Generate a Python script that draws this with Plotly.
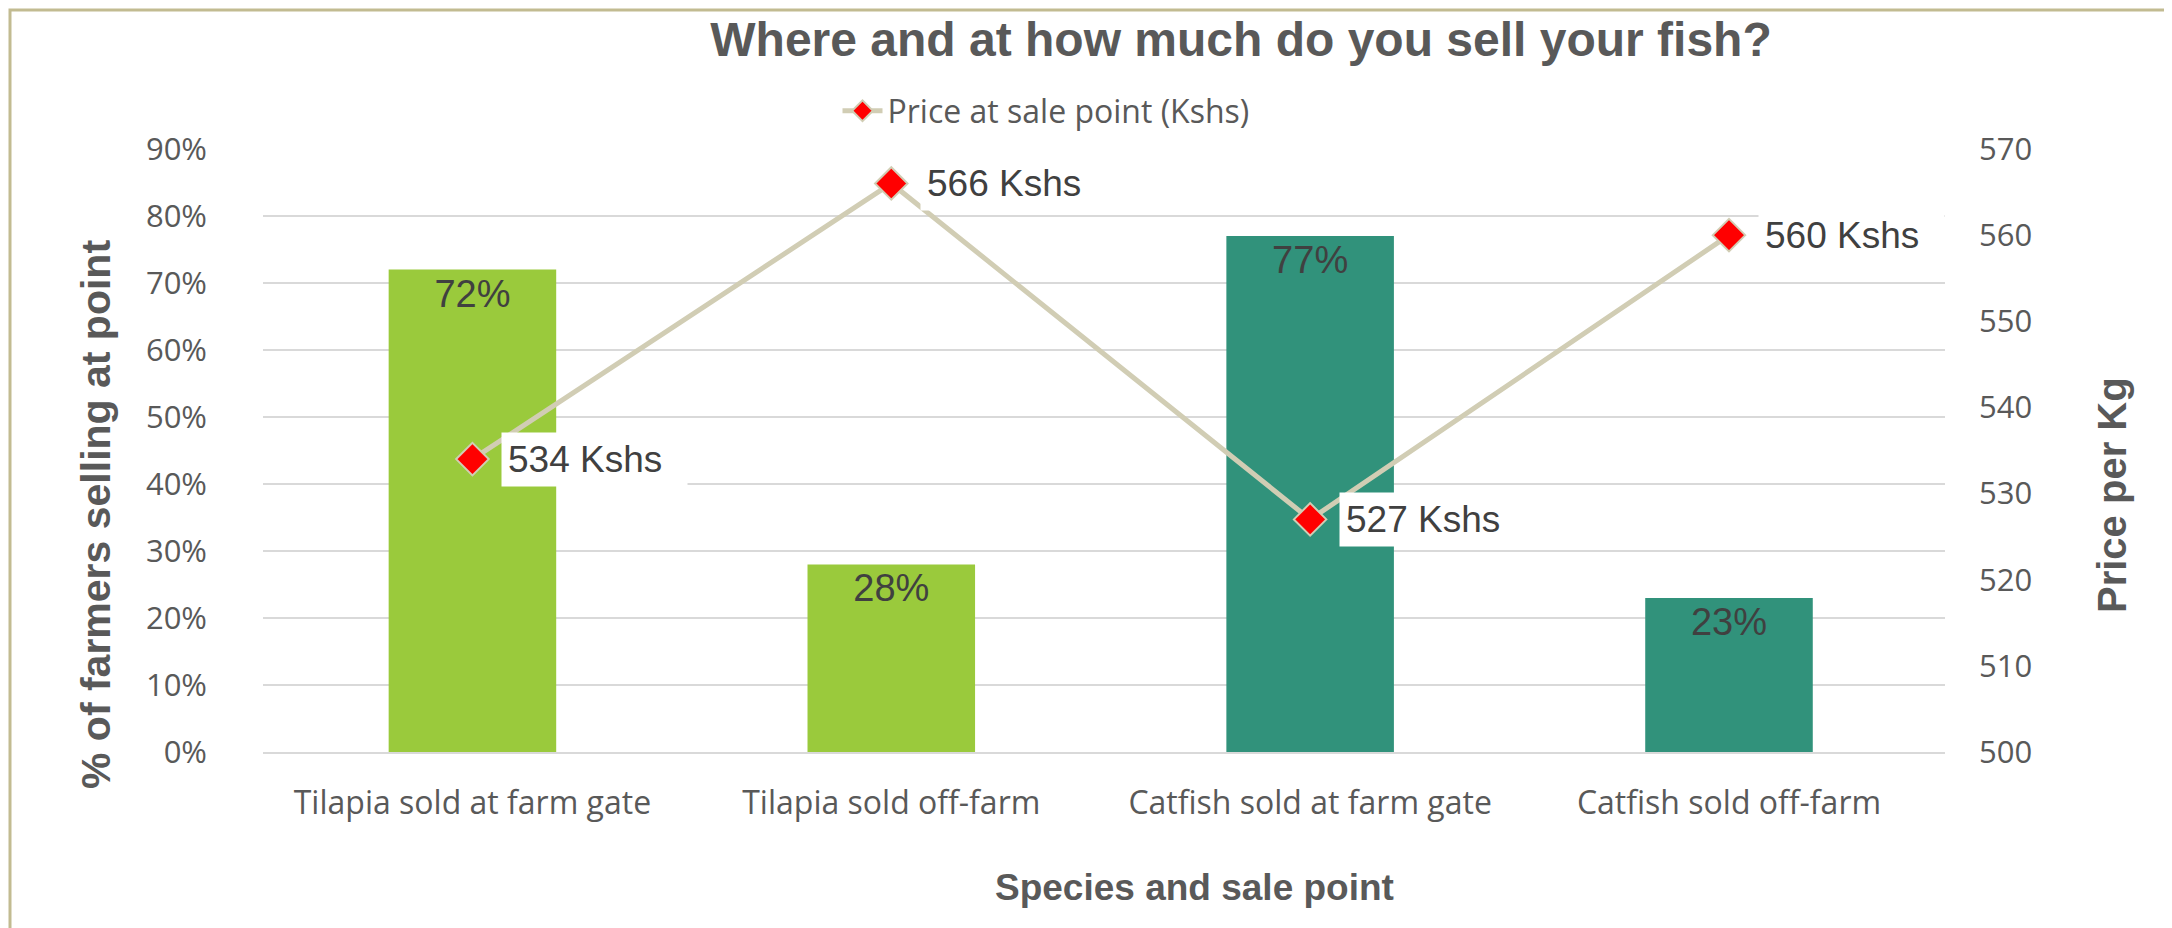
import plotly.graph_objects as go

categories = ["Tilapia sold at farm gate", "Tilapia sold off-farm",
              "Catfish sold at farm gate", "Catfish sold off-farm"]
share_selling = [0.72, 0.28, 0.77, 0.23]
share_labels = ["72%", "28%", "77%", "23%"]
price_kshs = [534, 566, 527, 560]
price_labels = ["534 Kshs", "566 Kshs", "527 Kshs", "560 Kshs"]
left_ticks = [0, 0.1, 0.2, 0.3, 0.4, 0.5, 0.6, 0.7, 0.8, 0.9]
right_ticks = [500, 510, 520, 530, 540, 550, 560, 570]

bar_colors = ["#9ACA3C", "#9ACA3C", "#31927B", "#31927B"]
GREY = "#595959"
DARK = "#404040"
LINE = "#D1CDB4"

OFF = 8  # browser body margin
W, H = 2172 - OFF, 928 - OFF
L, R, T, B = 263 - OFF, 1945 - OFF, 149 - OFF, 752 - OFF
pw, ph = R - L, B - T


def px(x):
    return (x - L) / pw


def py(y):
    return (B - y) / ph


fig = go.Figure()
fig.add_trace(go.Bar(
    x=categories, y=share_selling, marker_color=bar_colors,
    marker_line_width=0, width=0.4,
    text=share_labels, textposition="inside", insidetextanchor="end",
    textfont=dict(family="Arial, Liberation Sans", size=38, color=DARK),
    textangle=0, showlegend=False, hoverinfo="skip", yaxis="y",
))
fig.add_trace(go.Scatter(
    x=categories, y=price_kshs, mode="lines+markers",
    name="Price at sale point (Kshs)",
    line=dict(color=LINE, width=5),
    marker=dict(symbol="diamond", size=25, color="#FF0000",
                line=dict(color=LINE, width=2)),
    yaxis="y2",
))

annotations = []
for c, p, t in zip(categories, price_kshs, price_labels):
    annotations.append(dict(
        x=c, y=p, xref="x", yref="y2", text=t + "\u2002",
        showarrow=False, xanchor="left", yanchor="middle", xshift=29,
        bgcolor="white", borderpad=6,
        font=dict(family="Arial, Liberation Sans", size=37, color=DARK),
    ))

annotations += [
    dict(text="<b>% of farmers selling at point</b>", x=px(88), y=py(507),
         xref="paper", yref="paper", showarrow=False, textangle=-90,
         xanchor="center", yanchor="middle",
         font=dict(family="Arial, Liberation Sans", size=41, color=GREY)),
    dict(text="<b>Price per Kg</b>", x=px(2104), y=py(487),
         xref="paper", yref="paper", showarrow=False, textangle=-90,
         xanchor="center", yanchor="middle",
         font=dict(family="Arial, Liberation Sans", size=40, color=GREY)),
    dict(text="<b>Species and sale point</b>", x=px(1186), y=py(879),
         xref="paper", yref="paper", showarrow=False,
         xanchor="center", yanchor="middle",
         font=dict(family="Arial, Liberation Sans", size=37, color=GREY)),
]

shapes = [dict(type="rect", xref="paper", yref="paper",
               x0=px(2), x1=px(2160), y0=py(2), y1=py(960),
               line=dict(color="#C2BB91", width=3), layer="below")]

fig.update_layout(
    width=W, height=H,
    margin=dict(l=L, r=W - R, t=T, b=H - B, autoexpand=False),
    paper_bgcolor="white", plot_bgcolor="white",
    title=dict(text="<b>Where and at how much do you sell your fish?</b>",
               x=1233 / W, xanchor="center",
               y=1 - 31 / H, yanchor="middle",
               font=dict(family="Arial, Liberation Sans", size=48, color=GREY)),
    legend=dict(orientation="h", x=px(1046 - OFF), y=py(111 - OFF),
                xanchor="center", yanchor="middle",
                font=dict(family="Open Sans", size=32, color=GREY),
                bgcolor="rgba(0,0,0,0)", itemwidth=40),
    bargap=0.6,
    xaxis=dict(type="category", showgrid=False, showline=True,
               linecolor="#D9D9D9", linewidth=2, ticks="",
               tickfont=dict(family="Open Sans", size=32, color=GREY),
               ticklabelstandoff=22),
    yaxis=dict(range=[0, 0.9], tickvals=left_ticks, tickformat=".0%",
               showgrid=True, gridcolor="#D9D9D9", gridwidth=2,
               zeroline=False, showline=False, ticks="",
               tickfont=dict(family="Open Sans", size=31, color=GREY),
               ticklabelstandoff=55),
    yaxis2=dict(range=[500, 570], tickvals=right_ticks, overlaying="y",
                side="right", showgrid=False, zeroline=False, showline=False,
                ticks="",
                tickfont=dict(family="Open Sans", size=31, color=GREY),
                ticklabelstandoff=33),
    annotations=annotations, shapes=shapes,
)

fig.write_html("out.html")
